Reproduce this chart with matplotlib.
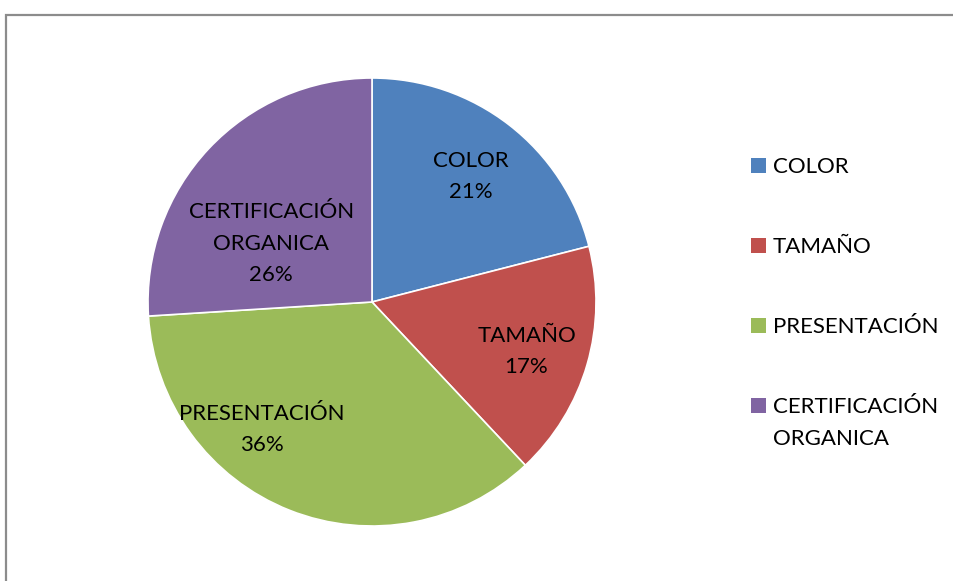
import matplotlib
matplotlib.use("Agg")
import matplotlib.pyplot as plt
from matplotlib.patches import Rectangle
import numpy as np

categories = ["COLOR", "TAMAÑO", "PRESENTACIÓN", "CERTIFICACIÓN\nORGANICA"]
values = [21, 17, 36, 26]
colors = ["#4F81BD", "#C0504D", "#9BBB59", "#8064A2"]
# label positions (axes-data units, radius 1) chosen to mimic Excel's best-fit placement
label_pos = [(0.44, 0.56), (0.69, -0.22), (-0.49, -0.57), (-0.45, 0.26)]

W, H = 954, 581
fig = plt.figure(figsize=(W / 100, H / 100), dpi=100)
plt.rcParams['font.family'] = ['Lato', 'DejaVu Sans']
FS = 16
LS = 1.72

cx, cy, r = 372, 302, 224
ax = fig.add_axes([(cx - r) / W, (H - cy - r) / H, 2 * r / W, 2 * r / H])

wedges, _ = ax.pie(values, colors=colors, startangle=90, counterclock=False,
                   radius=1, wedgeprops=dict(edgecolor='white', linewidth=1.2))
ax.set_xlim(-1, 1)
ax.set_ylim(-1, 1)
ax.set_aspect('equal')
ax.axis('off')

total = sum(values)
for (x, y), cat, v in zip(label_pos, categories, values):
    ax.text(x, y, f"{cat}\n{round(100 * v / total)}%", ha='center', va='center',
            fontsize=FS, color='black', linespacing=LS)

# legend drawn manually (square aligned with first line of label)
leg_y = [165, 245, 325, 405]
for yy, cat, c in zip(leg_y, categories, colors):
    fig.add_artist(Rectangle((751 / W, (H - yy - 8) / H), 15 / W, 15 / H,
                             transform=fig.transFigure, facecolor=c, edgecolor='none'))
    fig.text(773 / W, (H - yy + 8) / H, cat, ha='left', va='top', fontsize=FS,
             color='black', linespacing=LS)

# outer frame (chart area border, extends past the image on right/bottom)
fig.add_artist(Rectangle((6.5 / W, -0.1), 1.1, (H - 14.5) / H + 0.1,
                         transform=fig.transFigure, facecolor='none',
                         edgecolor='#8C8C8C', linewidth=1.6))

fig.savefig("out.png", dpi=100)
